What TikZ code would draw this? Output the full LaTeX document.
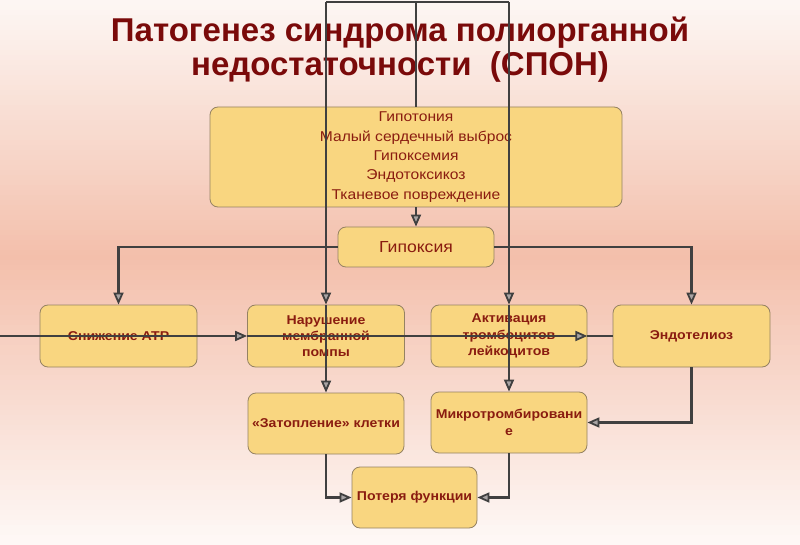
\documentclass[tikz,border=0pt]{standalone}
\usepackage{fontspec}
\setmainfont{Liberation Sans}
\newfontfamily\widesans[FakeStretch=1.1]{Liberation Sans}
\usetikzlibrary{arrows.meta}
\definecolor{bgtop}{HTML}{FDF6F3}
\definecolor{bgmid}{HTML}{F3BFAB}
\definecolor{bgbot}{HTML}{FEF9F7}
\definecolor{boxfill}{HTML}{F9D680}
\definecolor{boxline}{HTML}{958262}
\definecolor{txt}{HTML}{8A1C10}
\definecolor{ttl}{HTML}{7A0A0A}
\definecolor{linec}{HTML}{404040}
\definecolor{arrfill}{HTML}{A8A4A4}
\begin{document}
\begin{tikzpicture}[x=1pt,y=-1pt,
  box/.style={draw=boxline,fill=boxfill,line width=0.8pt,rounded corners=8pt,
    inner sep=0pt,align=center,text=txt},
  boldtxt/.style={font=\widesans\fontsize{12.8}{16.3}\selectfont\bfseries},
  regtxt/.style={font=\widesans\fontsize{14.2}{19.3}\selectfont},
  bigtxt/.style={font=\widesans\fontsize{16}{19}\selectfont},
  titletxt/.style={font=\fontsize{33}{34}\selectfont\bfseries,text=ttl,inner sep=0pt},
  conn/.style={draw=linec,line width=2.2pt},
  arr/.style={-{Triangle[length=12pt,width=10pt,line width=1.8pt,fill=arrfill]}}]
\useasboundingbox (0,0) rectangle (800,545);
\foreach \i in {0,...,51} {
  \pgfmathtruncatemacro\p{\i/51*100}
  \fill[bgmid!\p!bgtop] (0,\i*5) rectangle (800,\i*5+5.6);
}
\foreach \i in {51,...,109} {
  \pgfmathtruncatemacro\p{(109-\i)/58*100}
  \fill[bgmid!\p!bgbot] (0,\i*5) rectangle (800,\i*5+5.6);
}

\node[titletxt,anchor=base] (t1) at (400,42) {Патогенез синдрома полиорганной};
\node[titletxt,anchor=base] (t2) at (400,76) {недостаточности\ \ (СПОН)};

\node[box,regtxt,minimum width=412pt,minimum height=100pt] (hypo) at (416,157)
  {Гипотония\\Малый сердечный выброс\\Гипоксемия\\Эндотоксикоз\\Тканевое повреждение};
\node[box,bigtxt,minimum width=156pt,minimum height=40pt] (gipox) at (416,247) {Гипоксия};
\node[box,boldtxt,minimum width=157pt,minimum height=62pt] (snizh) at (118.5,336) {Снижение АТР};
\node[box,boldtxt,minimum width=157pt,minimum height=62pt] (narush) at (326,336) {Нарушение\\мембранной\\помпы};
\node[box,boldtxt,minimum width=156pt,minimum height=62pt] (aktiv) at (509,336) {Активация\\тромбоцитов\\лейкоцитов};
\node[box,boldtxt,minimum width=157pt,minimum height=62pt] (endo) at (691.5,336) {Эндотелиоз};
\node[box,boldtxt,minimum width=156pt,minimum height=61pt] (zatop) at (326,423.5) {«Затопление» клетки};
\node[box,boldtxt,minimum width=156pt,minimum height=61pt] (mikro) at (509,422.5) {Микротромбировани\\е};
\node[box,boldtxt,minimum width=125pt,minimum height=61pt] (poter) at (414.5,497.5) {Потеря функции};

\coordinate (tl) at (326,2);
\coordinate (tm) at (416,2);
\coordinate (tr) at (509,2);
\coordinate (lft) at (0,336);

\draw[conn] (tm) -- (hypo.north);
\draw[conn] (tl) -- (tr);
\draw[conn,arr] (tl) -- (narush.north);
\draw[conn,arr] (narush.north) -- (zatop.north);
\draw[conn,arr] (tr) -- (aktiv.north);
\draw[conn,arr] (aktiv.north) -- (mikro.north);
\draw[conn,arr] (hypo.south) -- (gipox.north);
\draw[conn,arr] (gipox.west) -| (snizh.north);
\draw[conn,arr] (gipox.east) -| (endo.north);
\draw[conn,arr] (lft) -- (narush.west);
\draw[conn,arr] (narush.west) -- (aktiv.east);
\draw[conn] (aktiv.east) -- (endo.west);
\draw[conn,arr] (endo.south) |- (mikro.east);
\draw[conn,arr] (zatop.south) |- (poter.west);
\draw[conn,arr] (mikro.south) |- (poter.east);
\end{tikzpicture}
\end{document}
